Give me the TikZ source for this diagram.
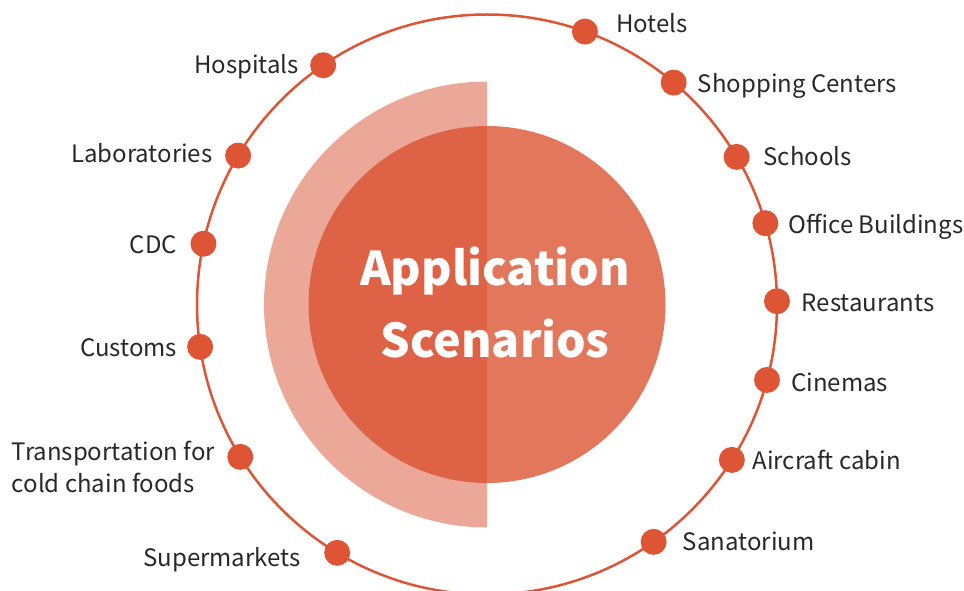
\documentclass[tikz,border=0pt]{standalone}
\usepackage{fontspec}
\setmainfont{Noto Sans CJK SC}
\definecolor{dotc}{RGB}{221,85,53}
\definecolor{ringc}{RGB}{235,168,152}
\definecolor{innerl}{RGB}{222,99,70}
\definecolor{innerr}{RGB}{226,119,92}
\definecolor{txtc}{RGB}{40,40,40}
\begin{document}
\begin{tikzpicture}[x=1pt,y=-1pt,
  dotnode/.style={circle,fill=dotc,draw=none,minimum size=26pt,inner sep=0pt},
  rlabel/.style={anchor=base west,inner sep=0pt,text=txtc,font=\fontsize{24}{32}\selectfont},
  llabel/.style={anchor=base east,inner sep=0pt,text=txtc,font=\fontsize{24}{32}\selectfont},
  title/.style={align=center,text=white,font=\fontsize{46.5}{72}\selectfont\bfseries,inner sep=0pt}]
\useasboundingbox (0,0) rectangle (964,591);
\clip (0,0) rectangle (964,591);
\coordinate (c) at (487,304.5);
% outer circle
\draw[line width=2.5pt,dotc] (c) circle[radius=290];
% light half ring
\begin{scope}
\clip (0,0) rectangle (487,591);
\fill[ringc] (c) circle[radius=223];
\fill[innerl] (c) circle[radius=178.5];
\end{scope}
\begin{scope}
\clip (487,0) rectangle (964,591);
\fill[innerr] (c) circle[radius=178.5];
\end{scope}
% title
\node[title] (t) at (495,303) {Application\\Scenarios};
% dots
\path (c) ++(-70.26:290) node[dotnode] (dhotels) {};
\path (c) ++(-49.93:290) node[dotnode] (dshopping) {};
\path (c) ++(-30.6:290) node[dotnode] (dschools) {};
\path (c) ++(-16.28:290) node[dotnode] (doffice) {};
\path (c) ++(-0.65:290) node[dotnode] (drest) {};
\path (c) ++(15.08:290) node[dotnode] (dcinemas) {};
\path (c) ++(32.4:290) node[dotnode] (daircraft) {};
\path (c) ++(54.93:290) node[dotnode] (dsana) {};
\path (c) ++(-124.4:290) node[dotnode] (dhosp) {};
\path (c) ++(-149.1:290) node[dotnode] (dlab) {};
\path (c) ++(-167.9:290) node[dotnode] (dcdc) {};
\path (c) ++(-188.4:290) node[dotnode] (dcustoms) {};
\path (c) ++(-211.7:290) node[dotnode] (dtrans) {};
\path (c) ++(-238.9:290) node[dotnode] (dsuper) {};
% labels right
\node[rlabel] (lhotels) at (616,33) {Hotels};
\node[rlabel] (lshopping) at (697.7,92.7) {Shopping Centers};
\node[rlabel] (lschools) at (763.3,165.7) {Schools};
\node[rlabel] (loffice) at (788.3,233.3) {Office Buildings};
\node[rlabel] (lrest) at (801.7,311.7) {Restaurants};
\node[rlabel] (lcinemas) at (791,391.7) {Cinemas};
\node[rlabel] (laircraft) at (752.3,469) {Aircraft cabin};
\node[rlabel] (lsana) at (682.7,550) {Sanatorium};
% labels left
\node[llabel] (lhosp) at (299,73.3) {Hospitals};
\node[llabel] (llab) at (212.7,162.3) {Laboratories};
\node[llabel] (lcdc) at (177.3,253.3) {CDC};
\node[llabel] (lcustoms) at (177.3,356.7) {Customs};
\node[llabel] (lsuper) at (300.7,566.7) {Supermarkets};
\node[rlabel,align=left] (ltrans) at (11.7,492.5) {Transportation for\\cold chain foods};
\end{tikzpicture}
\end{document}
